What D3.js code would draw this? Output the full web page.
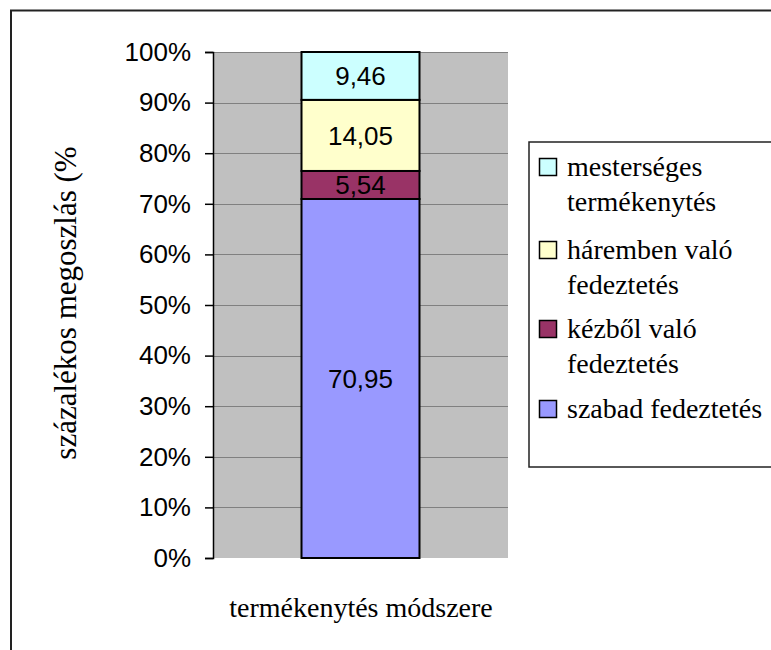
<!DOCTYPE html>
<html>
<head>
<meta charset="utf-8">
<script src="https://cdn.jsdelivr.net/npm/d3@7"></script>
<style>
  body { margin: 0; background: #fff; }
  .tick text { font-family: "Liberation Sans", Arial, sans-serif; font-size: 26px; fill: #000; }
  .serif { font-family: "Liberation Serif", "Times New Roman", serif; }
</style>
</head>
<body>
<div class="chart"></div>
<script>
// chart data
var categories = ["termékenytés módszere"];
var seriesNames = ["szabad fedeztetés", "kézből való fedeztetés", "háremben való fedeztetés", "mesterséges termékenytés"];
var seriesValues = [70.95, 5.54, 14.05, 9.46];
var seriesColors = ["#9999ff", "#993366", "#ffffcc", "#ccffff"];
var legendLines = [["szabad fedeztetés"], ["kézből való", "fedeztetés"], ["háremben való", "fedeztetés"], ["mesterséges", "termékenytés"]];
var tickValues = [0, 10, 20, 30, 40, 50, 60, 70, 80, 90, 100];
var yTitle = "százalékos megoszlás (%";

var svgWidth = 771;
var svgHeight = 650;

var plot = { left: 213, right: 508, top: 52, bottom: 558 };

var svg = d3.select(".chart")
  .append("svg")
  .attr("width", svgWidth)
  .attr("height", svgHeight);

// outer frame
svg.append("rect")
  .attr("x", 11)
  .attr("y", 10.5)
  .attr("width", 800)
  .attr("height", 700)
  .attr("fill", "#fff")
  .attr("stroke", "#222")
  .attr("stroke-width", 2);

var x = d3.scaleBand()
  .domain(categories)
  .range([plot.left, plot.right])
  .padding(0.4286);

var y = d3.scaleLinear()
  .domain([0, 100])
  .range([plot.bottom, plot.top]);

// plot area
svg.append("rect")
  .attr("x", plot.left)
  .attr("y", plot.top)
  .attr("width", plot.right - plot.left)
  .attr("height", plot.bottom - plot.top)
  .attr("fill", "#c0c0c0");

// gridlines
svg.append("g")
  .selectAll("line")
  .data(tickValues.slice(1))
  .enter()
  .append("line")
  .attr("x1", plot.left)
  .attr("x2", plot.right)
  .attr("y1", d => Math.round(y(d)) + 0.5)
  .attr("y2", d => Math.round(y(d)) + 0.5)
  .attr("stroke", "#808080")
  .attr("stroke-width", 1);

// stacked data
var stacked = [];
var acc = 0;
seriesValues.forEach(function(v, i) {
  stacked.push({ name: seriesNames[i], value: v, y0: acc, y1: acc + v, color: seriesColors[i] });
  acc += v;
});

var fmt = d3.formatLocale({ decimal: ",", thousands: " ", grouping: [3], currency: ["", ""] }).format(".2f");

var barGroup = svg.append("g");
barGroup.selectAll("rect")
  .data(stacked)
  .enter()
  .append("rect")
  .attr("x", x(categories[0]))
  .attr("width", x.bandwidth())
  .attr("y", d => y(d.y1))
  .attr("height", d => y(d.y0) - y(d.y1))
  .attr("fill", d => d.color)
  .attr("stroke", "#000")
  .attr("stroke-width", 2);

barGroup.selectAll("text")
  .data(stacked)
  .enter()
  .append("text")
  .attr("x", x(categories[0]) + x.bandwidth() / 2)
  .attr("y", d => (y(d.y0) + y(d.y1)) / 2)
  .attr("dy", "0.36em")
  .attr("text-anchor", "middle")
  .style("font-family", "'Liberation Sans', Arial, sans-serif")
  .style("font-size", "26px")
  .attr("fill", "#000")
  .text(d => fmt(d.value));

// y axis
var leftAxis = d3.axisLeft(y)
  .tickValues(tickValues)
  .tickSize(8)
  .tickPadding(14)
  .tickFormat(d => d + "%");

var yAxisG = svg.append("g")
  .attr("transform", `translate(${plot.left},0)`)
  .call(leftAxis);
yAxisG.select(".domain").attr("stroke", "#000").attr("stroke-width", 1.5);
yAxisG.selectAll(".tick line").attr("stroke", "#000").attr("stroke-width", 1.5);

// axis titles
svg.append("text")
  .attr("class", "serif")
  .attr("transform", `translate(76,${(plot.top + plot.bottom) / 2 - 2}) rotate(-90)`)
  .attr("text-anchor", "middle")
  .style("font-size", "31px")
  .text(yTitle);

svg.append("text")
  .attr("class", "serif")
  .attr("x", 361)
  .attr("y", 617)
  .attr("text-anchor", "middle")
  .style("font-size", "28px")
  .text(categories[0]);

// legend
var legend = svg.append("g");
legend.append("rect")
  .attr("x", 529)
  .attr("y", 142)
  .attr("width", 300)
  .attr("height", 325)
  .attr("fill", "#fff")
  .attr("stroke", "#222")
  .attr("stroke-width", 1.5);

var legendBase = [176, 259, 338, 418];
var legendOrder = [3, 2, 1, 0];
legendOrder.forEach(function(si, k) {
  var g = legend.append("g");
  g.append("rect")
    .attr("x", 539.5)
    .attr("y", legendBase[k] - 17.5)
    .attr("width", 17)
    .attr("height", 17)
    .attr("fill", seriesColors[si])
    .attr("stroke", "#000")
    .attr("stroke-width", 1.5);
  var t = g.append("text")
    .attr("class", "serif")
    .attr("x", 567)
    .attr("y", legendBase[k])
    .style("font-size", "28px");
  legendLines[si].forEach(function(line, j) {
    t.append("tspan")
      .attr("x", 567)
      .attr("dy", j === 0 ? 0 : 35)
      .text(line);
  });
});
</script>
</body>
</html>
